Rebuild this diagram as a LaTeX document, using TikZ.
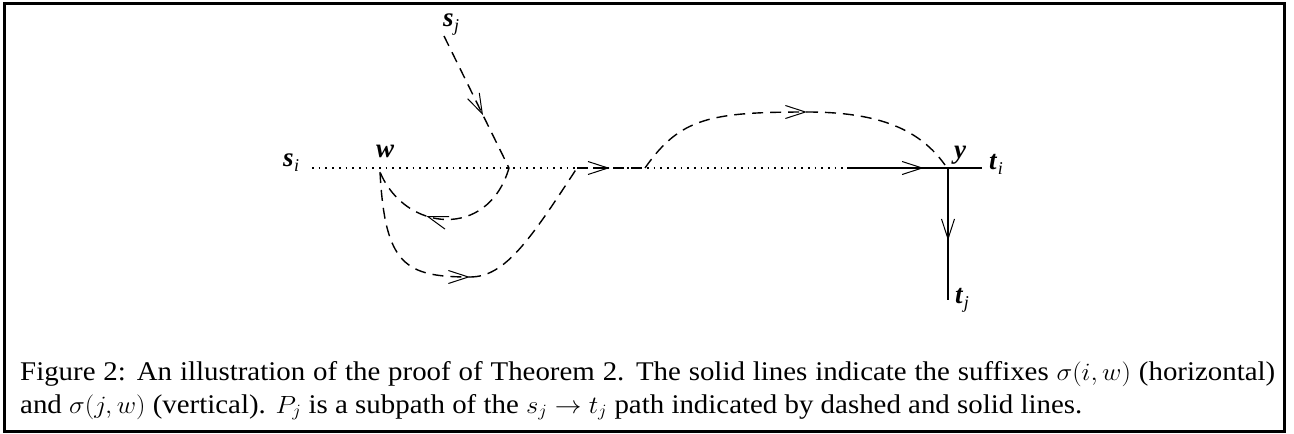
\documentclass[tikz,border=0pt]{standalone}
\usepackage{fontspec}
\setmainfont{Liberation Serif}
\usetikzlibrary{arrows.meta,decorations.markings}
\newcommand\lbl[2]{\textbf{\textit{#1}}\kern0.5pt\raisebox{-5pt}{\fontsize{18}{18}\selectfont\textit{#2}}}
\tikzset{
  solidpath/.style={line width=1.4pt},
  dashpath/.style={line width=1.4pt, dash pattern=on 11pt off 7pt},
  dotpath/.style={line width=1.7pt, dash pattern=on 1.7pt off 5pt},
  midarrow/.style={postaction={decorate}, decoration={markings, mark=at position #1 with {\arrow{Straight Barb[length=20pt,width=13pt,line width=1pt]}}}},
  lab/.style={inner sep=0pt, anchor=base west, font=\fontsize{27}{27}\selectfont},
  captext/.style={inner sep=0pt, anchor=base west, font=\fontsize{27}{34}\selectfont}
}
\begin{document}
\begin{tikzpicture}[x=1pt,y=-1pt]
\useasboundingbox (0,0) rectangle (1294,434);
\draw[line width=3pt] (4.5,3) rectangle (1284,431.5);
% labels
\node[lab] (si) at (283,166) {\lbl{s}{i}};
\node[lab] (w) at (376,157) {\textbf{\textit{w}}};
\node[lab] (sj) at (443,26) {\lbl{s}{j}};
\node[lab] (y) at (954,158) {\textbf{\textit{y}}};
\node[lab] (ti) at (989,169) {\lbl{t}{i}};
\node[lab] (tj) at (955,303) {\lbl{t}{j}};
% points
\coordinate (A) at (312,168);
\coordinate (W) at (378,168);
\coordinate (S) at (444,36);
\coordinate (J) at (509,168);
\coordinate (B) at (470,277);
\coordinate (C) at (577,168);
\coordinate (D) at (645,168);
\coordinate (E) at (807,112);
\coordinate (F) at (847,168);
\coordinate (Y) at (948,168);
\coordinate (G) at (982,168);
\coordinate (T) at (948,300);
% main dotted line
\draw[dotpath] (A) -- (F);
% s_j to J
\draw[dashpath, midarrow=0.6] (S) -- (J);
% loop back to w
\draw[dashpath, midarrow=0.62] (J) .. controls (488,240) and (405,232) .. (380,172);
% lower loop
\draw[dashpath, midarrow=1] (380,172) .. controls (385,265) and (405,277) .. (B);
\draw[dashpath] (B) .. controls (505,277) and (530,240) .. (C);
% along main line
\draw[dashpath, midarrow=0.48] (C) -- (D);
% top arc
\draw[dashpath, midarrow=1] (D) .. controls (680,118) and (710,112) .. (E);
\draw[dashpath] (E) .. controls (880,112) and (920,130) .. (945,165);
% solid suffixes
\draw[solidpath, midarrow=0.76] (F) -- (Y);
\draw[solidpath] (Y) -- (G);
\draw[solidpath, midarrow=0.55] (Y) -- (T);
% caption
\node[captext] (c1) at (20,380) {\scalebox{1.07}[1]{\makebox[1173pt][s]{Figure 2: An illustration of the proof of Theorem 2. The solid lines indicate the suffixes $\sigma(i,w)$ (horizontal)}}};
\node[captext] (c2) at (20,413) {\scalebox{1.07}[1]{and $\sigma(j,w)$ (vertical). $P_j$ is a subpath of the $s_j \rightarrow t_j$ path indicated by dashed and solid lines.}};
\end{tikzpicture}
\end{document}
